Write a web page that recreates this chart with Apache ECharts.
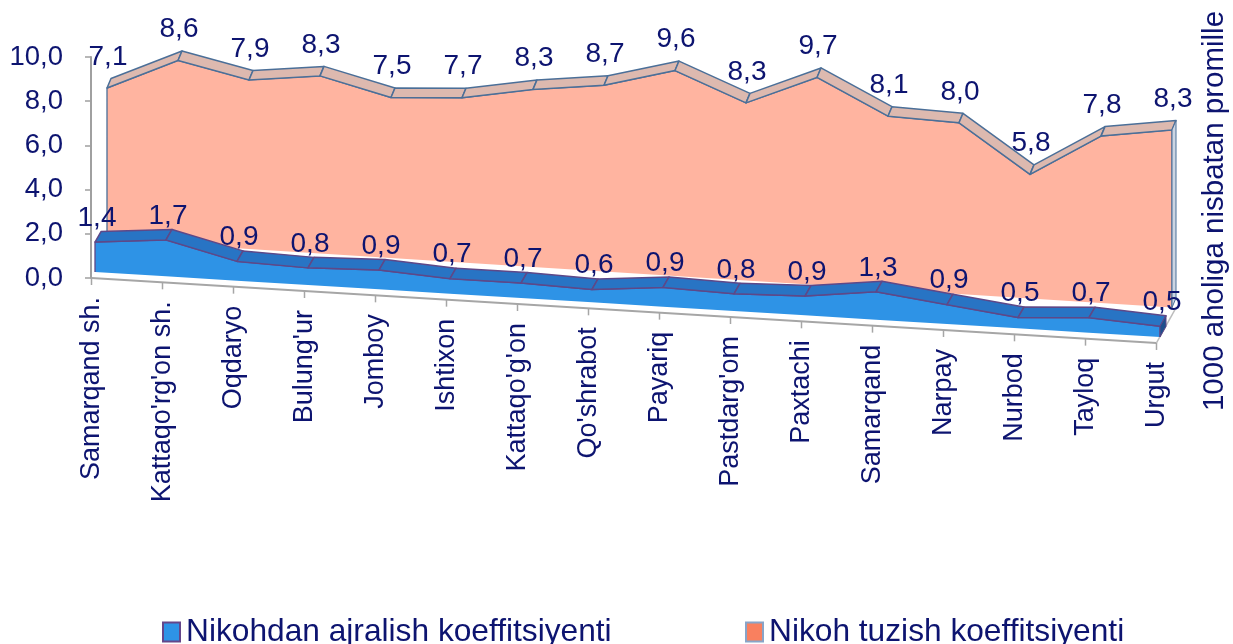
<!DOCTYPE html>
<html>
<head>
<meta charset="utf-8">
<script src="https://cdn.jsdelivr.net/npm/echarts@6/dist/echarts.min.js"></script>
<style>
html,body{margin:0;padding:0;background:#fff;}
#chart{width:1233px;height:644px;}
</style>
</head>
<body>
<div id="chart"></div>
<script>
// ---- data ----
const categories = ["Samarqand sh.","Kattaqo'rg'on sh.","Oqdaryo","Bulung'ur","Jomboy","Ishtixon","Kattaqo'g'on","Qo'shrabot","Payariq","Pastdarg'om","Paxtachi","Samarqand","Narpay","Nurbod","Tayloq","Urgut"];
const ajralish = [1.4,1.7,0.9,0.8,0.9,0.7,0.7,0.6,0.9,0.8,0.9,1.3,0.9,0.5,0.7,0.5];
const tuzish = [7.1,8.6,7.9,8.3,7.5,7.7,8.3,8.7,9.6,8.3,9.7,8.1,8.0,5.8,7.8,8.3];
const yTickValues = [0,2,4,6,8,10];
const seriesNames = ['Nikohdan ajralish koeffitsiyenti','Nikoh tuzish koeffitsiyenti'];
const axisTitle = '1000 aholiga nisbatan promille';

// ---- styles ----
const FONT = "'Liberation Sans', Arial, sans-serif";
const NAVY = '#0d1470';
const fmt = v => v.toFixed(1).replace('.', ',');

const ROWS = {
  front: {dx:0, dy:0, slope:0.061, depth:[6,-10.5], fill:'#2E93E6', top:'#2874C4', side:'#1D4F8C', stroke:'#5E4888', labelDX:2, labelDY:-24},
  back:  {dx:12, dy:-32, slope:0.0634, depth:[4,-9.5], fill:'#FFB4A0', top:'#DDB9AF', side:'#CCD5E2', stroke:'#4B6F98', labelDX:1, labelDY:-31}
};

function makeRender(row){
  return function(params, api){
    const n = params.dataInsideLength;
    const idx = params.dataIndexInside;
    const x0 = api.coord([0,0])[0];
    const P = (i, v) => { const c = api.coord([i, v]); return [c[0] + row.dx, c[1] + (c[0] - x0) * row.slope + row.dy]; };
    const children = [];
    if (idx === 0) {
      const tops = [], bases = [];
      for (let j = 0; j < n; j++) {
        const i = api.value(0, j), v = api.value(1, j);
        tops.push(P(i, v)); bases.push(P(i, 0));
      }
      const d = row.depth;
      children.push({type:'polygon', shape:{points: tops.concat(bases.slice().reverse())}, style:{fill: row.fill, stroke:null}});
      children.push({type:'polyline', shape:{points: [bases[0]].concat(tops, [bases[n-1]])}, style:{fill:null, stroke: row.stroke, lineWidth:1.3}});
      for (let j = 0; j < n - 1; j++) {
        const a = tops[j], b = tops[j+1];
        children.push({type:'polygon', shape:{points:[a, b, [b[0]+d[0], b[1]+d[1]], [a[0]+d[0], a[1]+d[1]]]}, style:{fill: row.top, stroke: row.stroke, lineWidth:1.5, lineJoin:'round'}});
      }
      const a = tops[n-1], b = bases[n-1];
      children.push({type:'polygon', shape:{points:[a, [a[0]+d[0], a[1]+d[1]], [b[0]+d[0], b[1]+d[1]], b]}, style:{fill: row.side, stroke: row.stroke, lineWidth:1}});
    }
    const v = api.value(1);
    const p = P(api.value(0), v);
    children.push({type:'text', z2:20, style:{text: fmt(v), x: p[0] + row.labelDX, y: p[1] + row.labelDY, align:'center', verticalAlign:'middle', font: '28px ' + FONT, fill: NAVY}});
    return {type:'group', children};
  };
}

function renderFloor(params, api){
  const n = params.dataInsideLength;
  const idx = params.dataIndexInside;
  const x0 = api.coord([0,0])[0];
  const F = i => { const c = api.coord([i, 0]); return [c[0] - 3.5, c[1] + (c[0] - x0) * ROWS.front.slope + 6]; };
  const children = [];
  if (idx === 0) {
    const a = F(0), b = F(n - 1);
    children.push({type:'line', shape:{x1:a[0], y1:a[1], x2:b[0], y2:b[1]}, style:{stroke:'#A6A6A6', lineWidth:2}});
    children.push({type:'line', shape:{x1:b[0], y1:b[1], x2:b[0]+20, y2:b[1]-36}, style:{stroke:'#BDBDBD', lineWidth:1.5}});
  }
  const p = F(api.value(0));
  children.push({type:'line', shape:{x1:p[0], y1:p[1], x2:p[0], y2:p[1]+7}, style:{stroke:'#A6A6A6', lineWidth:1.5}});
  children.push({type:'text', x: p[0], y: p[1] + 19, rotation: Math.PI/2, style:{text: categories[params.dataIndex], x:0, y:0, align:'right', verticalAlign:'middle', font:'27px ' + FONT, fill: NAVY}});
  return {type:'group', children};
}

const chart = echarts.init(document.getElementById('chart'));
chart.setOption({
  animation:false,
  backgroundColor:'#ffffff',
  grid:[
    {left:95, right:73, top:58, bottom:372},
    {left:91, width:10, top:57, height:221}
  ],
  xAxis:[
    {type:'category', data:categories, boundaryGap:false, show:false, gridIndex:0},
    {type:'value', show:false, gridIndex:1}
  ],
  yAxis:[
    {type:'value', min:0, max:10, show:false, gridIndex:0},
    {type:'value', min:0, max:10, interval:2, gridIndex:1,
     axisLine:{show:true, lineStyle:{color:'#A0A0A0', width:2}},
     axisTick:{show:true, length:6, lineStyle:{color:'#A0A0A0', width:1.5}},
     splitLine:{show:false},
     axisLabel:{margin:28, fontSize:27.5, fontFamily:FONT, color:NAVY, formatter: v => fmt(v)}}
  ],
  legend:[
    {data:[{name:seriesNames[0], icon:'rect', itemStyle:{color:'#2E93E6', borderColor:'#64468A', borderWidth:2}}],
     left:162, top:616, itemWidth:17, itemHeight:19, itemGap:0, padding:0, selectedMode:false,
     textStyle:{fontSize:31.7, fontFamily:FONT, color:NAVY, padding:[0,0,0,1]}},
    {data:[{name:seriesNames[1], icon:'rect', itemStyle:{color:'#F9805F', borderColor:'#88A4C8', borderWidth:2}}],
     left:745, top:616, itemWidth:17, itemHeight:19, itemGap:0, padding:0, selectedMode:false,
     textStyle:{fontSize:31.7, fontFamily:FONT, color:NAVY, padding:[0,0,0,1]}}
  ],
  graphic:[
    {type:'text', x:1215, y:211, rotation:Math.PI/2, style:{text:axisTitle, x:0, y:0, align:'center', verticalAlign:'middle', font:'29.5px ' + FONT, fill:NAVY}}
  ],
  series:[
    {type:'custom', name:'floor', xAxisIndex:0, yAxisIndex:0, renderItem: renderFloor,
     data: categories.map((c, i) => [i, 0]), encode:{x:0, y:1}, silent:true},
    {type:'custom', name:seriesNames[1], xAxisIndex:0, yAxisIndex:0, renderItem: makeRender(ROWS.back),
     itemStyle:{color:'#F9805F'}, data: tuzish.map((v, i) => [i, v]), encode:{x:0, y:1}},
    {type:'custom', name:seriesNames[0], xAxisIndex:0, yAxisIndex:0, renderItem: makeRender(ROWS.front),
     itemStyle:{color:'#2E93E6'}, data: ajralish.map((v, i) => [i, v]), encode:{x:0, y:1}}
  ]
});
</script>
</body>
</html>
